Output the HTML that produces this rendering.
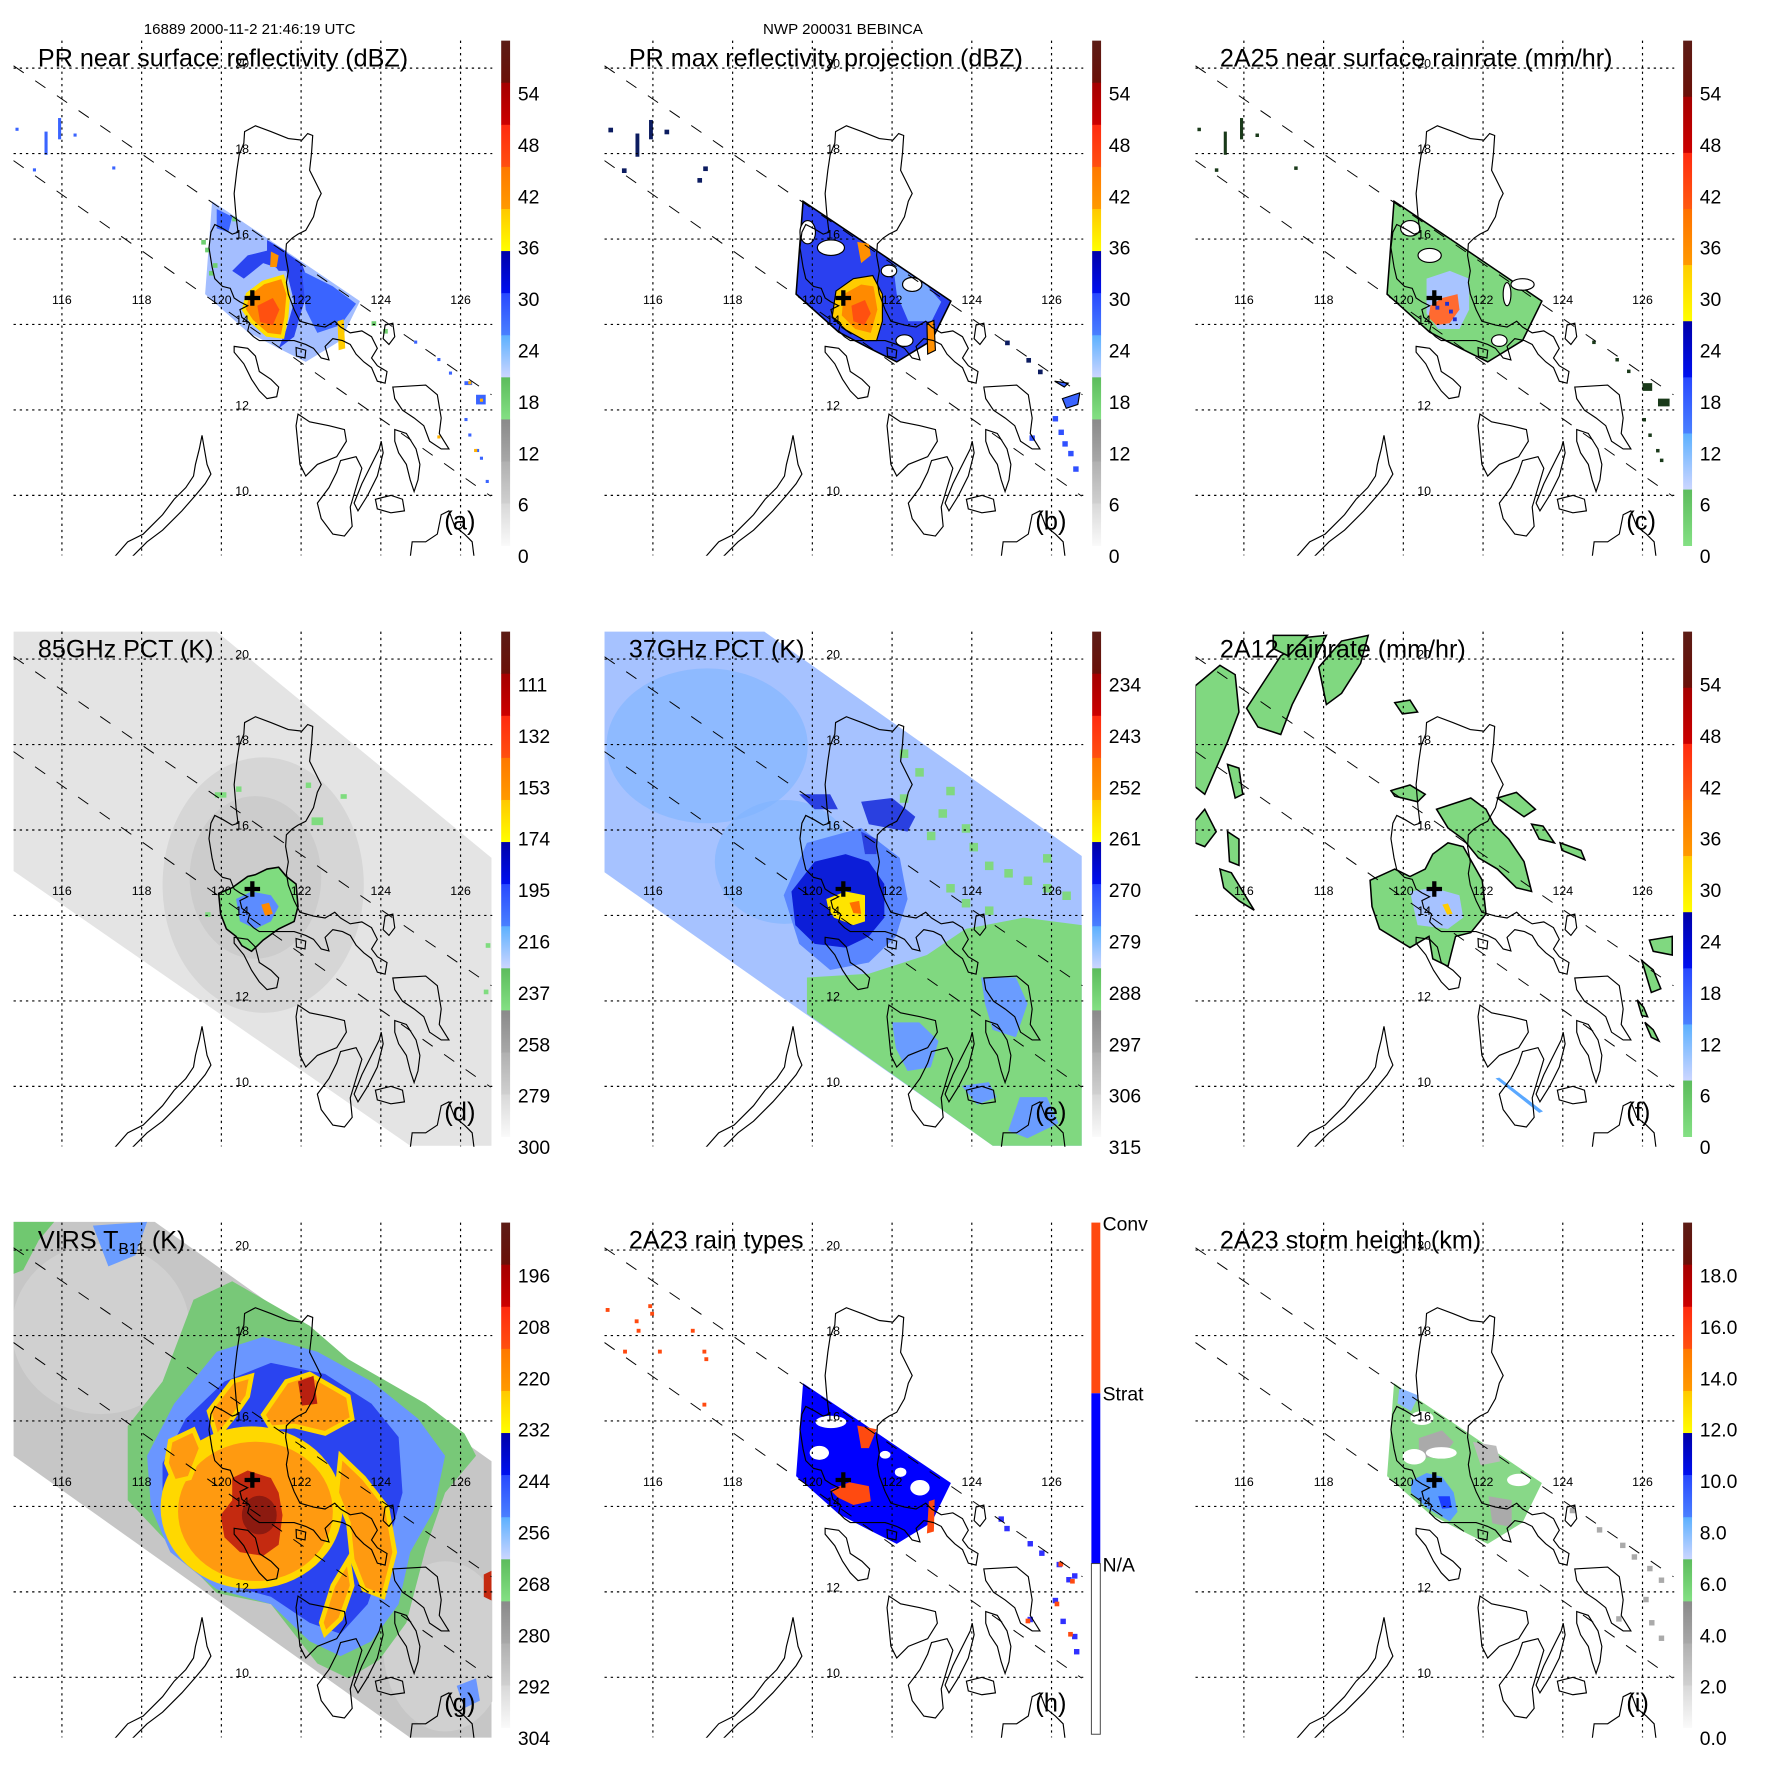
<!DOCTYPE html>
<html><head><meta charset="utf-8">
<style>
html,body{margin:0;padding:0;background:#fff;}
svg{display:block;font-family:"Liberation Sans",Arial,sans-serif;}
</style></head>
<body>
<svg id="fig" xmlns="http://www.w3.org/2000/svg" width="1771" height="1771" viewBox="0 0 4576 4576">
<rect x="0" y="0" width="4576" height="4576" fill="#fff"/>
<defs id="defs"></defs>
<text x="645" y="88" font-size="39" text-anchor="middle">16889 2000-11-2 21:46:19 UTC</text>
<text x="2178" y="88" font-size="39" text-anchor="middle">NWP 200031 BEBINCA</text>
</svg>
<script>
const NS='http://www.w3.org/2000/svg';
const svg=document.getElementById('fig');
const defs=document.getElementById('defs');
function mk(tag,attrs,parent){const e=document.createElementNS(NS,tag);for(const k in attrs)e.setAttribute(k,attrs[k]);parent.appendChild(e);return e;}

// axis tick values
const lonTicks=[116,118,120,122,124,126];
const latTicks=[20,18,16,14,12,10];
// colorbar labels (bottom to top)
const cbDbz=['0','6','12','18','24','30','36','42','48','54'];
const cbRain=['0','6','12','18','24','30','36','42','48','54'];
const cb85=['300','279','258','237','216','195','174','153','132','111'];
const cb37=['315','306','297','288','279','270','261','252','243','234'];
const cbIR=['304','292','280','268','256','244','232','220','208','196'];
const cbHt=['0.0','2.0','4.0','6.0','8.0','10.0','12.0','14.0','16.0','18.0'];
const cbType=['N/A','Strat','Conv'];

const STEP=1527;
function lonX(l){return 160+(l-116)*103;}
function latY(l){return 176+(20-l)*110.4;}

const stdMap=[['#5c1c16','#6a1008'],['#a40000','#cc0000'],['#ff2a10','#ff5010'],['#ff7800','#ff9a00'],['#ffc800','#ffff00'],['#0000a8','#0010f0'],['#2848ff','#4a80ff'],['#5cb0ff','#ccd6ff'],['#5cbc5c','#84e084'],['#8a8a8a','#a8a8a8'],['#b0b0b0','#d0d0d0'],['#d8d8d8','#fafafa']];
const rainMap=[['#5c1c16','#6a1008'],['#a40000','#cc0000'],['#ff2a10','#ff5a10'],['#ff7000','#ff9a00'],['#ffcc00','#ffff00'],['#0000a8','#0010f0'],['#2848ff','#4a80ff'],['#5cb0ff','#ccd6ff'],['#5cbc5c','#84e084']];

// coastlines (map coords)
const coasts={
luzon:[[632,340],[660,325],[700,340],[745,358],[780,362],[795,345],[808,350],[805,395],[800,440],[815,470],[830,500],[820,520],[810,560],[790,595],[770,605],[755,615],[740,630],[738,660],[745,700],[740,730],[745,760],[760,800],[775,830],[810,840],[840,845],[865,830],[880,845],[905,860],[935,855],[960,870],[975,900],[960,925],[975,945],[1000,960],[995,990],[975,985],[960,950],[940,935],[920,915],[905,890],[885,880],[860,875],[840,895],[850,930],[830,925],[810,900],[790,890],[760,880],[730,880],[700,880],[670,880],[655,870],[640,855],[645,835],[625,820],[620,800],[640,790],[620,780],[605,770],[595,745],[575,740],[555,720],[548,690],[540,640],[545,600],[555,580],[575,590],[600,605],[615,600],[610,560],[605,500],[612,440],[618,400],[630,370]],
mindoro:[[605,895],[640,900],[660,920],[670,960],[700,980],[720,1000],[715,1025],[690,1030],[670,1010],[650,980],[630,940],[605,910]],
marinduque:[[765,898],[790,905],[788,925],[766,920]],
catand:[[995,840],[1015,835],[1020,870],[1005,890],[990,875]],
samar:[[1015,1000],[1100,995],[1130,1020],[1140,1080],[1135,1120],[1160,1160],[1140,1160],[1110,1140],[1095,1100],[1070,1080],[1040,1060],[1020,1030]],
leyte:[[1020,1110],[1050,1120],[1075,1160],[1085,1200],[1080,1240],[1070,1270],[1060,1240],[1050,1200],[1030,1170],[1020,1140]],
panay:[[770,1070],[800,1090],[850,1100],[890,1110],[895,1140],[870,1180],[820,1200],[790,1230],[775,1200],[770,1150],[765,1100]],
negros:[[880,1190],[920,1180],[935,1210],[920,1260],[905,1310],[910,1360],[890,1385],[860,1380],[830,1340],[820,1300],[850,1260],[870,1220]],
cebu:[[985,1140],[990,1170],[975,1230],[950,1280],[925,1320],[915,1300],[935,1250],[960,1200],[980,1160]],
bohol:[[970,1290],[1010,1280],[1040,1290],[1045,1320],[1010,1325],[975,1315]],
palawan:[[295,1440],[330,1400],[370,1380],[420,1330],[450,1290],[480,1260],[500,1230],[505,1200],[515,1160],[522,1125],[528,1160],[535,1200],[545,1225],[530,1250],[505,1280],[470,1320],[420,1370],[380,1400],[340,1440]]
};
const openCoasts={
mindanao:[[1060,1440],[1065,1400],[1100,1400],[1130,1380],[1140,1330],[1160,1320],[1175,1360],[1200,1380],[1220,1400],[1225,1440]]
};

// PR swath dense region (map coords)
const prSwath=[[548,520],[600,555],[700,622],[800,690],[930,778],[880,880],[790,935],[720,900],[640,858],[530,760]];

function cv(pts,c){return pts.map(p=>((p[0]*(c.xs||1)+(c.xo||0)).toFixed(1))+','+((p[1]*(c.ys||1)+(c.yo||0)).toFixed(1))).join(' ');}

const panels=[
 {key:'a',col:0,row:0,title:'PR near surface reflectivity (dBZ)',letter:'(a)',labels:cbDbz,map:stdMap},
 {key:'b',col:1,row:0,title:'PR max reflectivity projection (dBZ)',letter:'(b)',labels:cbDbz,map:stdMap},
 {key:'c',col:2,row:0,title:'2A25 near surface rainrate (mm/hr)',letter:'(c)',labels:cbRain,map:rainMap},
 {key:'d',col:0,row:1,title:'85GHz PCT (K)',letter:'(d)',labels:cb85,map:stdMap},
 {key:'e',col:1,row:1,title:'37GHz PCT (K)',letter:'(e)',labels:cb37,map:stdMap},
 {key:'f',col:2,row:1,title:'2A12 rainrate (mm/hr)',letter:'(f)',labels:cbRain,map:rainMap},
 {key:'g',col:0,row:2,title:'VIRS',letter:'(g)',labels:cbIR,map:stdMap},
 {key:'h',col:1,row:2,title:'2A23 rain types',letter:'(h)',labels:cbType,map:null},
 {key:'i',col:2,row:2,title:'2A23 storm height (km)',letter:'(i)',labels:cbHt,map:stdMap}
];

let gid=0;
function poly(parent,pts,fill,extra){const a=Object.assign({points:pts,fill:fill},extra||{});const p=mk('polygon',a,parent);return p;}
function spots(parent,list,fill,s){list.forEach(q=>{mk('rect',{x:q[0],y:q[1],width:q[2]||s,height:q[3]||s,fill:fill},parent);});}
function pl(s){return s.split(' ').map(t=>t.split(',').map(Number));}

function drawData(P,g){
 const k=P.key;
 if(k==='a'){
  poly(g,cv(prSwath,{}),'#a4beff');
  poly(g,cv([[600,700],[640,660],[720,640],[780,680],[800,740],[780,800],[760,870],[720,900],[740,850],[760,780],[740,700],[680,680],[630,720]],{}),'#2a44f0');
  poly(g,cv([[780,700],[860,740],[920,785],[880,840],[820,860],[790,800]],{}),'#3a64ff');
  poly(g,cv([[690,620],[740,650],[760,700],[720,700],[690,660]],{}),'#2a44f0');
  poly(g,cv([[560,540],[600,560],[590,600],[560,590]],{}),'#3a64ff');
  poly(g,cv([[640,760],[680,730],[730,715],[745,760],[740,820],[730,870],[690,865],[650,830],[630,800]],{}),'#ff8a00',{stroke:'#ffe000','stroke-width':10});
  poly(g,cv([[665,790],[705,770],[722,800],[705,840],[672,832]],{}),'#ff5010');
  poly(g,cv([[700,650],[720,660],[715,690],[698,690]],{}),'#ff9000');
  poly(g,cv([[872,830],[888,825],[892,900],[875,905]],{}),'#ffcc00');
  spots(g,[[530,640],[540,700],[550,680],[520,620],[600,560],[960,830],[990,850]],'#70d070',12);
  spots(g,[[115,340,8,60],[150,305,8,55],[40,330],[85,435],[190,345],[290,430],[1070,880],[1130,925],[1160,960],[1200,985,20,10],[1230,1020,25,25],[1200,1080],[1210,1120],[1230,1160],[1240,1180],[1255,1240]],'#3a64ff',8);
  spots(g,[[1210,985],[1240,1030],[1130,1125],[1225,1160]],'#ffb000',8);
 }
 if(k==='b'){
  const c={xo:18};
  poly(g,cv(prSwath,{}),'#2a40f0',{stroke:'#000','stroke-width':4});
  poly(g,cv([[780,680],[870,740],[905,780],[880,830],[820,830],[790,760]],{}),'#7aa8ff');
  [[620,640,35,20],[830,735,25,18],[770,700,20,15],[810,880,22,15],[560,600,20,30]].forEach(e=>{mk('ellipse',{cx:e[0],cy:e[1],rx:e[2],ry:e[3],fill:'#fff',stroke:'#000','stroke-width':3},g);});
  poly(g,cv([[615,752],[660,720],[710,712],[735,760],[735,830],[720,880],[690,880],[640,852],[605,820]],c),'#ffcc00',{stroke:'#000','stroke-width':3});
  poly(g,cv([[635,760],[680,735],[712,740],[722,800],[705,860],[665,850],[630,815]],c),'#ff8a00');
  poly(g,cv([[655,790],[690,775],[705,810],[688,840],[660,830]],c),'#ff5010');
  poly(g,cv([[670,625],[700,630],[705,660],[680,680]],c),'#ff9000');
  poly(g,cv([[850,835],[868,828],[872,905],[852,915]],c),'#ff9000',{stroke:'#000','stroke-width':3});
  spots(g,[[115,345,10,60],[150,310,10,50],[45,330],[80,435],[190,335],[290,430],[275,460],[1070,880],[1125,925],[1155,955]],'#0c1c60',12);
  poly(g,cv([[1180,985],[1215,990],[1205,1000]],c),'#3a64ff',{stroke:'#000','stroke-width':3});
  poly(g,cv([[1200,1030],[1245,1015],[1240,1045],[1210,1055]],c),'#3a64ff',{stroke:'#000','stroke-width':3});
  spots(g,pl(cv([[1175,1075],[1190,1110],[1200,1140],[1215,1165],[1228,1205],[1115,1125]],c)),'#3050ff',14);
 }
 if(k==='c'){
  const c={xo:-28};
  poly(g,cv(prSwath,{}),'#80d880',{stroke:'#000','stroke-width':4});
  [[640,660,30,18],[880,735,30,15],[820,880,20,15],[840,760,10,30],[590,590,25,20]].forEach(e=>{mk('ellipse',{cx:e[0],cy:e[1],rx:e[2],ry:e[3],fill:'#fff',stroke:'#000','stroke-width':3},g);});
  poly(g,cv([[660,720],[720,700],[770,720],[770,800],[745,850],[690,850],[660,810]],c),'#a8c4ff');
  poly(g,cv([[670,790],[700,770],[740,760],[745,800],[720,835],[685,840],[665,820]],c),'#ff6a30');
  spots(g,[[655,790],[690,800],[700,820],[680,780]],'#2030d0',10);
  spots(g,[[108,340,8,60],[150,305,8,55],[40,330],[85,435],[190,345],[290,430],[1060,880],[1120,925],[1150,955],[1190,990,25,20],[1230,1030,30,20],[1190,1080],[1205,1120],[1225,1160],[1235,1185]],'#1a3a1a',9);
 }
 if(k==='d'){
  const c={ys:0.966,yo:23};
  poly(g,cv([[35,85],[560,85],[1270,690],[1270,1460],[1060,1460],[35,725]],c),'#e4e4e4');
  mk('ellipse',{cx:680,cy:760,rx:260,ry:330,fill:'#d2d2d2',opacity:0.8},g);
  mk('ellipse',{cx:660,cy:740,rx:170,ry:210,fill:'#c8c8c8',opacity:0.7},g);
  poly(g,cv([[565,785],[600,770],[640,740],[660,735],[690,720],[720,715],[740,740],[765,760],[770,820],[760,860],[720,880],[680,910],[650,940],[625,925],[610,900],[585,880],[570,840]],c),'#7fdc7f',{stroke:'#000','stroke-width':4});
  poly(g,cv([[610,800],[650,780],[700,790],[720,820],[700,860],[660,880],[620,860]],c),'#5c8cff');
  poly(g,cv([[675,815],[695,810],[705,840],[685,845]],c),'#ff8a00');
  spots(g,[[555,520,30,14],[610,505,14,14],[790,495,14,14],[805,585,30,20],[880,525,16,12],[530,830,14,12],[1255,910],[1250,1030]],'#7fdc7f',12);
 }
 if(k==='e'){
  const c={xo:18,ys:0.966,yo:23};
  poly(g,cv([[12,85],[430,85],[1250,685],[1250,1460],[1020,1460],[12,725]],c),'#a6c2ff');
  mk('ellipse',{cx:300,cy:400,rx:260,ry:200,fill:'#7eb4ff',opacity:0.6},g);
  mk('ellipse',{cx:500,cy:700,rx:180,ry:160,fill:'#7eb4ff',opacity:0.6},g);
  poly(g,cv([[540,1010],[700,1000],[850,950],[950,880],[1100,850],[1250,870],[1250,1460],[1020,1460],[540,1107]],c),'#80d880');
  poly(g,cv([[990,1010],[1080,1010],[1110,1080],[1080,1170],[1020,1150],[1000,1080]],c),'#6a9cff');
  poly(g,cv([[760,1130],[830,1130],[880,1180],[860,1250],[800,1260],[770,1200]],c),'#6a9cff');
  poly(g,cv([[940,1300],[1010,1290],[1030,1330],[980,1350]],c),'#6a9cff');
  poly(g,cv([[1090,1330],[1160,1330],[1190,1400],[1110,1440],[1060,1420]],c),'#6a9cff');
  poly(g,cv([[480,790],[540,650],[680,610],[780,690],[800,800],[770,900],[700,970],[600,990],[520,920]],c),'#5a86ff');
  poly(g,cv([[500,780],[560,700],[640,680],[700,700],[740,760],[740,850],[700,900],[640,930],[560,920],[510,870]],c),'#0c1ed8');
  poly(g,cv([[520,520],[600,520],[620,560],[560,560]],c),'#2a40e0');
  poly(g,cv([[680,540],[760,530],[820,580],[800,620],[700,600]],c),'#2a40e0');
  poly(g,cv([[680,620],[720,640],[720,680],[690,680]],c),'#2a40e0');
  poly(g,cv([[590,800],[640,780],[690,790],[690,860],[660,870],[610,850],[595,825]],c),'#ffe400');
  poly(g,cv([[650,810],[675,805],[680,840],[660,838]],c),'#ff7000');
  spots(g,pl(cv([[780,400],[820,450],[900,500],[880,560],[940,600],[960,650],[1000,700],[1050,720],[1100,740],[1150,760],[1200,780],[900,760],[940,800],[1000,820],[1150,680],[850,620],[780,520]],c)),'#80d880',22);
 }
 if(k==='f'){
  const c={xs:0.982,ys:0.966,yo:23};
  const st={stroke:'#000','stroke-width':4};
  poly(g,cv([[35,230],[100,175],[140,200],[150,300],[120,380],[90,450],[60,520],[35,500]],c),'#80d880',st);
  poly(g,cv([[170,290],[260,150],[330,100],[380,95],[330,200],[290,280],[260,360],[200,340]],c),'#80d880',st);
  poly(g,cv([[360,180],[420,110],[490,95],[470,170],[420,250],[380,280]],c),'#80d880',st);
  poly(g,cv([[240,95],[330,95],[280,150],[240,130]],c),'#80d880',st);
  poly(g,cv([[35,590],[60,560],[90,620],[60,660],[35,650]],c),'#80d880',st);
  poly(g,cv([[100,720],[130,730],[160,780],[190,830],[150,805],[110,770]],c),'#80d880',st);
  poly(g,cv([[120,620],[150,640],[150,710],[125,700]],c),'#80d880',st);
  poly(g,cv([[120,440],[150,450],[160,520],[140,530]],c),'#80d880',st);
  poly(g,cv([[560,275],[600,268],[620,300],[580,305]],c),'#80d880',st);
  poly(g,cv([[495,750],[560,720],[600,740],[640,720],[660,680],[700,650],[740,660],[790,750],[800,840],[760,890],[720,900],[700,980],[660,960],[650,900],[600,930],[520,880],[500,820]],c),'#80d880',st);
  poly(g,cv([[670,560],[760,530],[800,560],[820,600],[860,640],[900,700],[920,780],[880,770],[830,720],[780,690],[740,640],[700,610]],c),'#80d880',st);
  poly(g,cv([[830,530],[880,515],[930,560],[900,580]],c),'#80d880',st);
  poly(g,cv([[550,510],[600,495],[640,520],[620,540],[560,525]],c),'#80d880',st);
  poly(g,cv([[920,600],[950,605],[980,650],[940,640]],c),'#80d880',st);
  poly(g,cv([[995,650],[1050,670],[1060,695],[1000,670]],c),'#80d880',st);
  poly(g,cv([[1230,910],[1290,900],[1290,950],[1240,940]],c),'#80d880',st);
  poly(g,cv([[1210,965],[1240,990],[1260,1040],[1235,1050]],c),'#80d880',st);
  poly(g,cv([[1198,1070],[1215,1090],[1225,1115],[1210,1112]],c),'#80d880',st);
  poly(g,cv([[1218,1130],[1240,1150],[1255,1180],[1235,1170]],c),'#80d880',st);
  poly(g,cv([[600,780],[660,770],[730,790],[740,850],[700,880],[620,870]],c),'#a6c2ff');
  poly(g,cv([[685,815],[700,812],[712,840],[698,842]],c),'#ffcc00');
  poly(g,cv([[825,1280],[835,1278],[950,1368],[940,1372]],c),'#5aa8ff');
 }
 if(k==='g'){
  const c={ys:0.959,yo:36};
  poly(g,cv([[35,70],[400,70],[1270,715],[1270,1460],[1060,1460],[35,700]],c),'#c6c6c6');
  mk('ellipse',{cx:260,cy:380,rx:230,ry:220,fill:'#d0d0d0'},g);
  mk('ellipse',{cx:1150,cy:1200,rx:160,ry:220,fill:'#d0d0d0'},g);
  poly(g,cv([[35,70],[140,70],[100,120],[60,200],[35,210]],c),'#70c870');
  poly(g,cv([[240,80],[380,70],[350,160],[280,190]],c),'#6a9cff');
  poly(g,cv([[330,620],[420,500],[500,280],[600,230],[700,290],[800,350],[900,440],[1000,500],[1100,560],[1200,640],[1230,700],[1150,800],[1100,950],[1050,1150],[980,1250],[900,1300],[820,1260],[700,1100],[560,1070],[430,930],[330,820]],c),'#78c878');
  poly(g,cv([[380,700],[450,560],[560,420],[680,380],[820,420],[960,500],[1080,600],[1150,700],[1120,850],[1060,960],[1030,1100],[960,1200],[880,1240],[800,1200],[700,1100],[560,1060],[440,960],[390,840]],c),'#6a96ff');
  poly(g,cv([[420,720],[480,600],[580,500],[700,450],[840,480],[960,560],[1030,650],[1040,800],[1000,950],[950,1100],[880,1180],[800,1150],[700,1080],[560,1040],[460,950],[420,840]],c),'#2a44f0');
  mk('ellipse',{cx:650,cy:36+0.959*840,rx:235,ry:210,fill:'#ffd800'},g);
  mk('ellipse',{cx:660,cy:36+0.959*850,rx:200,ry:180,fill:'#ff9a10'},g);
  poly(g,cv([[600,760],[640,740],[700,760],[720,800],[730,860],[720,940],[680,970],[620,960],[580,920],[570,860],[600,820]],c),'#c42a10');
  mk('ellipse',{cx:670,cy:36+0.959*860,rx:45,ry:50,fill:'#8c1a10'},g);
  poly(g,cv([[540,580],[600,500],[650,485],[640,540],[600,600],[560,650]],c),'#ff9a10',{stroke:'#ffd800','stroke-width':12});
  poly(g,cv([[680,590],[740,500],[800,480],[900,540],[910,600],[840,640],[760,620],[700,625]],c),'#ff9a10',{stroke:'#ffd800','stroke-width':12});
  poly(g,cv([[770,500],[810,485],[820,560],[780,565]],c),'#b82010');
  poly(g,cv([[880,700],[940,760],[1000,840],[1020,960],[990,1080],[940,1060],[910,980],[900,880],[870,800]],c),'#ff9a10',{stroke:'#ffd800','stroke-width':12});
  poly(g,cv([[830,1150],[860,1050],[900,980],[910,1050],[880,1140],[840,1180]],c),'#ff9a10',{stroke:'#ffd800','stroke-width':12});
  poly(g,cv([[440,660],[500,630],[520,680],[490,760],[450,770],[430,720]],c),'#ff9a10',{stroke:'#ffd800','stroke-width':12});
  poly(g,cv([[1250,1020],[1270,1010],[1270,1090],[1250,1080]],c),'#c42a10');
  poly(g,cv([[1180,1320],[1230,1300],[1240,1360],[1200,1380]],c),'#6a96ff');
 }
 if(k==='h'){
  const c={xo:18,ys:0.979,yo:2.6};
  poly(g,cv(prSwath,{}),'#0000ff');
  [[620,620,40,16],[590,700,25,18],[850,790,25,20],[800,750,15,12],[760,705,14,10]].forEach(e=>{mk('ellipse',{cx:e[0],cy:e[1],rx:e[2],ry:e[3],fill:'#fff'},g);});
  poly(g,cv([[600,810],[650,790],[700,800],[705,840],[660,850],[620,830]],c),'#ff4a10');
  poly(g,cv([[670,640],[720,650],[700,700],[680,700]],c),'#ff4a10');
  poly(g,cv([[855,840],[870,835],[868,920],[850,925]],c),'#ff4a10');
  spots(g,pl(cv([[20,330],[95,360],[100,385],[130,320],[135,340],[240,385],[270,440],[275,460],[65,440],[155,440],[270,580]],c)),'#ff4a10',10);
  spots(g,pl(cv([[1035,880],[1050,905],[1110,945],[1140,970],[1185,1000],[1210,1040],[1225,1030],[1175,1095],[1195,1150],[1225,1190],[1230,1230],[1110,1145]],c)),'#3030ff',14);
  spots(g,pl(cv([[1190,1000],[1220,1045],[1180,1105],[1215,1185],[1105,1150]],c)),'#ff4a10',12);
 }
 if(k==='i'){
  const c={xo:-28,yo:-28};
  poly(g,cv(prSwath,{}),'#88d888');
  poly(g,cv([[640,690],[700,670],[730,700],[700,740],[640,740]],c),'#aaaaaa');
  poly(g,cv([[780,700],[840,710],[850,750],[800,760]],c),'#bbbbbb');
  poly(g,cv([[820,840],[880,850],[880,920],[830,910]],c),'#aaaaaa');
  [[620,610,30,18],[670,700,40,15],[870,770,30,16],[600,710,30,20]].forEach(e=>{mk('ellipse',{cx:e[0],cy:e[1],rx:e[2],ry:e[3],fill:'#fff'},g);});
  poly(g,cv([[590,560],[640,580],[620,620],[585,600]],c),'#8cb8ff');
  poly(g,cv([[620,800],[660,780],[700,790],[730,830],[740,880],[720,905],[660,870],[620,830]],c),'#5a9cff');
  poly(g,cv([[690,840],[720,840],[725,870],[700,872]],c),'#1a3cff');
  spots(g,pl(cv([[1030,870],[1100,920],[1160,960],[1190,990],[1230,1020],[1260,1050],[1220,1100],[1235,1160],[1260,1200],[1150,1150]],c)),'#aaaaaa',14);
 }
}

panels.forEach(P=>{
 const g=mk('g',{transform:'translate('+(P.col*STEP)+','+(P.row*STEP)+')'},svg);
 
 
 const cid='clip'+P.key;
 const lcp=mk('clipPath',{id:cid},g);
 mk('rect',{x:35,y:100,width:1237,height:1336},lcp);
 const dg=mk('g',{'clip-path':'url(#'+cid+')'},g);
 
 
 drawData(P,dg);
 // coastlines
 const cg=mk('g',{fill:'none',stroke:'#000','stroke-width':3,'clip-path':'url(#'+cid+')'},g);
 
 
 Object.keys(coasts).forEach(n=>{
  const p=mk('polygon',{points:coasts[n].map(q=>q.join(',')).join(' ')},cg);
  
  
 });
 Object.keys(openCoasts).forEach(n=>{
  const p=mk('polyline',{points:openCoasts[n].map(q=>q.join(',')).join(' ')},cg);
  
  
 });
 // grid
 const gg=mk('g',{stroke:'#000','stroke-width':3,'stroke-dasharray':'6,10'},g);
 
 
 lonTicks.forEach(l=>{const ln=mk('line',{x1:lonX(l),x2:lonX(l),y1:105,y2:1435},gg);
  
  });
 latTicks.forEach(l=>{const ln=mk('line',{x1:35,x2:1272,y1:latY(l),y2:latY(l)},gg);
  
  });
 // swath edges
 const sg=mk('g',{stroke:'#000','stroke-width':2.5,'stroke-dasharray':'32,36',fill:'none'},g);
 
 
 mk('line',{x1:35,y1:170,x2:1270,y2:1020},sg);
 mk('line',{x1:35,y1:415,x2:1268,y2:1282},sg);
 // tick labels
 lonTicks.forEach(l=>{const t=mk('text',{x:lonX(l),y:785,'font-size':32,'text-anchor':'middle'},g);t.textContent=String(l);
  
  });
 latTicks.forEach(l=>{const t=mk('text',{x:608,y:latY(l)-1,'font-size':32},g);t.textContent=String(l);
  
  });
 // storm center
 const cx=652,cy=770;
 const cr=mk('path',{d:'M'+(cx-20)+' '+cy+'H'+(cx+20)+'M'+cx+' '+(cy-20)+'V'+(cy+20),stroke:'#000','stroke-width':11},g);
 
 
 // title
 const tt=mk('text',{x:98,y:172,'font-size':65},g);
 if(P.key==='g'){
  tt.textContent='VIRS T';
  const s=mk('tspan',{'font-size':40,dy:14},tt);s.textContent='B11';
  const s2=mk('tspan',{dy:-14},tt);s2.textContent=' (K)';
 } else tt.textContent=P.title;
 
 
 const lt=mk('text',{x:1148,y:1368,'font-size':66},g);lt.textContent=P.letter;
 
 
 // colorbar
 const cb=mk('g',{},g);
 
 
 if(P.map){
  const n=P.map.length,top=105,bot=1410,h=(bot-top)/n;
  P.map.forEach((cc,i)=>{
   const id='gr'+(gid++);
   const lg=mk('linearGradient',{id:id,x1:0,y1:0,x2:0,y2:1},defs);
   mk('stop',{offset:0,'stop-color':cc[0]},lg);mk('stop',{offset:1,'stop-color':cc[1]},lg);
   const r=mk('rect',{x:1295,y:top+i*h,width:23,height:h+0.8,fill:'url(#'+id+')'},cb);
   
   
  });
  P.labels.forEach((s,i)=>{
   const t=mk('text',{x:1338,y:1438-i*132.8+17,'font-size':50},cb);t.textContent=s;
   
   
  });
 } else {
  const r1=mk('rect',{x:1293,y:105,width:23,height:441,fill:'#ff4a10'},cb);
  
  
  const r2=mk('rect',{x:1293,y:546,width:23,height:440,fill:'#0000ff'},cb);
  
  
  const r3=mk('rect',{x:1293,y:986,width:23,height:441,fill:'#fff',stroke:'#444','stroke-width':2.5},cb);
  
  
  const ys=[1006,565,125];
  P.labels.forEach((s,i)=>{
   const t=mk('text',{x:1322,y:ys[i],'font-size':50},cb);t.textContent=s;
   
   
  });
 }
});
</script>
</body></html>
